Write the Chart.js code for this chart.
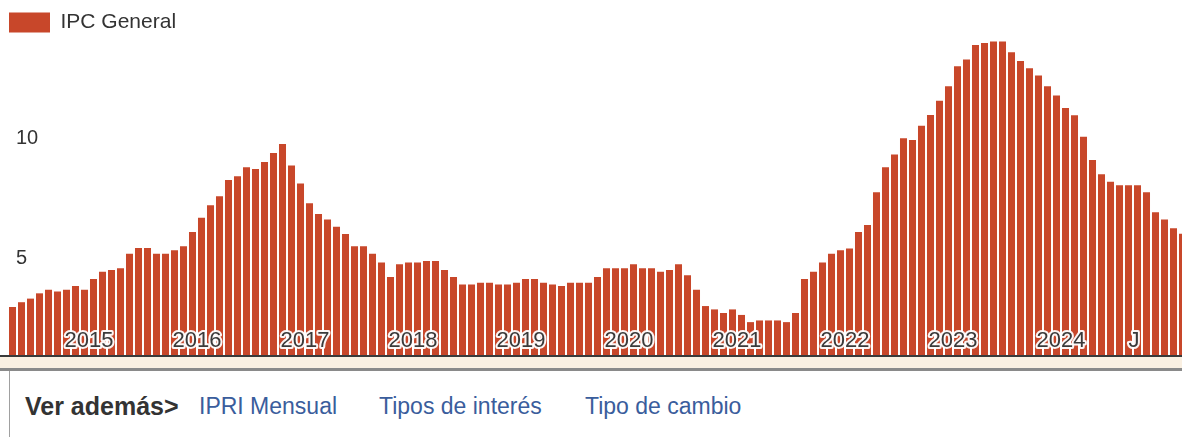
<!DOCTYPE html>
<html>
<head>
<meta charset="utf-8">
<script src="https://cdn.jsdelivr.net/npm/chart.js@4.4.1/dist/chart.umd.min.js"></script>
<style>
    html, body { margin: 0; padding: 0; background: #fff; overflow: hidden; }
    body { width: 1182px; height: 437px; position: relative; font-family: "Liberation Sans", Arial, sans-serif; }
    #chart-wrap { position: absolute; left: 0; top: 0; width: 1182px; height: 355px; overflow: hidden; }
    #chart-inner { position: relative; width: 1188px; height: 355px; }
    #strip { position: absolute; left: 0; top: 355px; width: 1182px; height: 11px;
             border-top: 2px solid #3a3a3a; border-bottom: 3px solid #8a8a8a; background: #faf0e2; }
    #more { position: absolute; left: 9px; top: 371px; width: 1173px; height: 66px; border-left: 1px solid #a0a0a0; }
    #more span { position: absolute; top: 22px; white-space: nowrap; }
    #more .lead { left: 15px; top: 21px; font-weight: bold; font-size: 25px; color: #333; }
    #more .link { font-size: 23px; color: #3a5d9c; }
</style>
</head>
<body>
<div id="chart-wrap"><div id="chart-inner"><canvas id="ipcChart"></canvas></div></div>
<div id="strip"></div>
<div id="more">
    <span class="lead">Ver además&gt;</span>
    <span class="link" style="left:189px">IPRI Mensual</span>
    <span class="link" style="left:369px">Tipos de interés</span>
    <span class="link" style="left:575px">Tipo de cambio</span>
</div>
<script>
// ── Data ─────────────────────────────────────────────────────────────
const months = [
    '2014-10', '2014-11', '2014-12',
    '2015-01', '2015-02', '2015-03', '2015-04', '2015-05', '2015-06', '2015-07', '2015-08', '2015-09', '2015-10', '2015-11', '2015-12',
    '2016-01', '2016-02', '2016-03', '2016-04', '2016-05', '2016-06', '2016-07', '2016-08', '2016-09', '2016-10', '2016-11', '2016-12',
    '2017-01', '2017-02', '2017-03', '2017-04', '2017-05', '2017-06', '2017-07', '2017-08', '2017-09', '2017-10', '2017-11', '2017-12',
    '2018-01', '2018-02', '2018-03', '2018-04', '2018-05', '2018-06', '2018-07', '2018-08', '2018-09', '2018-10', '2018-11', '2018-12',
    '2019-01', '2019-02', '2019-03', '2019-04', '2019-05', '2019-06', '2019-07', '2019-08', '2019-09', '2019-10', '2019-11', '2019-12',
    '2020-01', '2020-02', '2020-03', '2020-04', '2020-05', '2020-06', '2020-07', '2020-08', '2020-09', '2020-10', '2020-11', '2020-12',
    '2021-01', '2021-02', '2021-03', '2021-04', '2021-05', '2021-06', '2021-07', '2021-08', '2021-09', '2021-10', '2021-11', '2021-12',
    '2022-01', '2022-02', '2022-03', '2022-04', '2022-05', '2022-06', '2022-07', '2022-08', '2022-09', '2022-10', '2022-11', '2022-12',
    '2023-01', '2023-02', '2023-03', '2023-04', '2023-05', '2023-06', '2023-07', '2023-08', '2023-09', '2023-10', '2023-11', '2023-12',
    '2024-01', '2024-02', '2024-03', '2024-04', '2024-05', '2024-06', '2024-07', '2024-08', '2024-09', '2024-10', '2024-11', '2024-12',
    '2025-01', '2025-02', '2025-03', '2025-04', '2025-05', '2025-06', '2025-07', '2025-08'
];

const ipcGeneral = [
    2.9, 3.1, 3.25,
    3.47, 3.62, 3.55, 3.62, 3.78, 3.62, 4.07, 4.37, 4.44, 4.52, 5.12, 5.36,
    5.36, 5.12, 5.12, 5.27, 5.43, 6.03, 6.62, 7.14, 7.52, 8.19, 8.35, 8.72,
    8.65, 8.94, 9.32, 9.69, 8.8, 8.05, 7.22, 6.78, 6.55, 6.25, 5.94, 5.43,
    5.43, 5.12, 4.75, 4.15, 4.68, 4.75, 4.75, 4.82, 4.82, 4.44, 4.15, 3.84,
    3.84, 3.91, 3.91, 3.84, 3.84, 3.91, 4.07, 4.07, 3.91, 3.84, 3.78, 3.91,
    3.91, 3.91, 4.15, 4.52, 4.52, 4.52, 4.68, 4.52, 4.52, 4.37, 4.44, 4.68,
    4.22, 3.62, 2.94, 2.8, 2.65, 2.8, 2.57, 2.27, 2.34, 2.34, 2.34, 2.27,
    2.65, 4.07, 4.37, 4.75, 5.12, 5.27, 5.34, 6.03, 6.32, 7.68, 8.73, 9.26,
    9.93, 9.86, 10.45, 10.9, 11.5, 12.1, 12.93, 13.22, 13.82, 13.9, 13.97, 13.97,
    13.52, 13.15, 12.85, 12.55, 12.1, 11.72, 11.19, 10.89, 10.0, 9.03, 8.43, 8.12,
    7.97, 7.97, 7.97, 7.68, 6.85, 6.55, 6.18, 5.95
];

// year labels sit inside the plot, centred at these category positions
const yearLabels = ['2015', '2016', '2017', '2018', '2019', '2020', '2021', '2022', '2023', '2024', 'J'];
const yearLabelAt = [8.5, 20.5, 32.5, 44.5, 56.5, 68.5, 80.5, 92.5, 104.5, 116.5, 124.6];

const yTicks = [5, 10];
const BAR_COLOR = '#c8472a';

// ── Year labels with white halo ──────────────────────────────────────
const yearLabelPlugin = {
    id: 'yearLabels',
    afterDatasetsDraw(chart) {
        const { ctx, chartArea, scales: { x } } = chart;
        ctx.save();
        ctx.font = '22px "Liberation Sans", Arial, sans-serif';
        ctx.textAlign = 'center';
        ctx.textBaseline = 'middle';
        ctx.lineJoin = 'round';
        yearLabels.forEach((txt, i) => {
            const px = x.getPixelForValue(yearLabelAt[i]);
            const py = chartArea.bottom - 14;
            ctx.strokeStyle = 'rgba(255,255,255,0.95)';
            ctx.lineWidth = 4;
            ctx.strokeText(txt, px, py);
            ctx.fillStyle = '#3a3a3a';
            ctx.fillText(txt, px, py);
        });
        ctx.restore();
    }
};

// ── Chart ────────────────────────────────────────────────────────────
const ctx = document.getElementById('ipcChart').getContext('2d');
new Chart(ctx, {
    type: 'bar',
    data: {
        labels: months,
        datasets: [{
            label: 'IPC General',
            data: ipcGeneral,
            backgroundColor: BAR_COLOR,
            borderWidth: 0,
            categoryPercentage: 1.0,
            barPercentage: 0.78,
            clip: false
        }]
    },
    options: {
        responsive: true,
        maintainAspectRatio: false,
        animation: false,
        layout: { padding: { top: 11, left: 8, right: 1, bottom: 0 } },
        plugins: {
            tooltip: { enabled: false },
            legend: {
                position: 'top',
                align: 'start',
                maxHeight: 22,
                labels: {
                    boxWidth: 41,
                    boxHeight: 20,
                    padding: 1,
                    color: '#333',
                    font: { family: '"Liberation Sans", Arial, sans-serif', size: 21 }
                }
            }
        },
        scales: {
            x: {
                grid: { display: false, drawTicks: false },
                border: { display: false },
                ticks: { display: false }
            },
            y: {
                min: 0.9,
                max: 14.32,
                grid: { display: false, drawTicks: false },
                border: { display: false },
                afterBuildTicks: s => { s.ticks = yTicks.map(v => ({ value: v })); },
                afterFit: s => { s.width = 0; s.paddingTop = 0; s.paddingBottom = 0; },
                ticks: {
                    mirror: true,
                    padding: 8,
                    labelOffset: 2,
                    color: '#333',
                    font: { family: '"Liberation Sans", Arial, sans-serif', size: 20 }
                }
            }
        }
    },
    plugins: [yearLabelPlugin]
});
</script>
</body>
</html>
